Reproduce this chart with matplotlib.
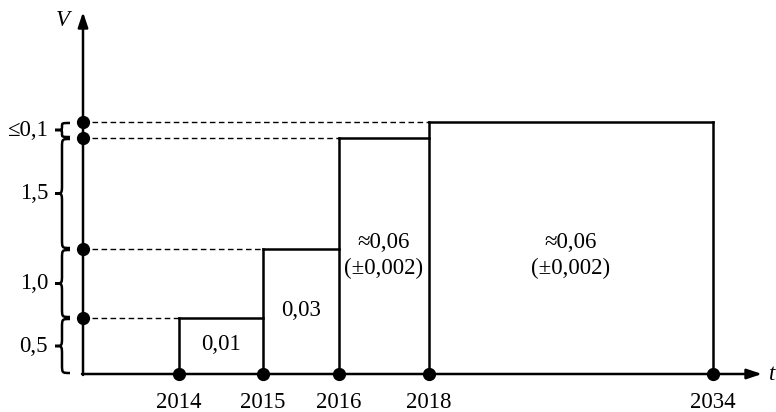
import matplotlib
matplotlib.use("Agg")
import matplotlib.pyplot as plt
from matplotlib.path import Path
from matplotlib.patches import PathPatch

plt.rcParams['font.family'] = ['Liberation Serif', 'DejaVu Serif']

# schematic data (units are drawing units, the diagram is not to scale)
years = ['2014', '2015', '2016', '2018', '2034']
year_pos = [96, 180, 256, 346, 630]
levels = [56, 125, 236, 252]          # step heights between consecutive years
step_labels = ['0,01', '0,03', '\u22480,06\n(\u00b10,002)', '\u22480,06\n(\u00b10,002)']
brace_labels = ['0,5', '1,0', '1,5', '\u22640,1']

fig = plt.figure(figsize=(7.76, 4.12), dpi=100)
ax = fig.add_axes([0, 0, 1, 1])
ax.set_xlim(-83, 693)
ax.set_ylim(-38, 374)
ax.axis('off')

lw = 1.8
fs = 16.5

# axes with arrows
ax.annotate('', xy=(0, 362), xytext=(0, -1),
            arrowprops=dict(arrowstyle='-|>,head_length=0.9,head_width=0.3',
                            lw=lw, color='black', shrinkA=0, shrinkB=0))
ax.annotate('', xy=(679, 0), xytext=(-1, 0),
            arrowprops=dict(arrowstyle='-|>,head_length=0.9,head_width=0.3',
                            lw=lw, color='black', shrinkA=0, shrinkB=0))
ax.text(-20, 354, 'V', fontsize=fs, style='italic', ha='center', va='center')
ax.text(689, -1, 't', fontsize=fs, style='italic', ha='center', va='center')

# steps
for i, h in enumerate(levels):
    x0, x1 = year_pos[i], year_pos[i + 1]
    ax.plot([x0, x1], [h, h], color='black', lw=lw, solid_capstyle='projecting')
    ax.plot([0, x0], [h, h], color='black', lw=1.0, ls=(0, (4, 2.5)))
    lines = step_labels[i].split('\n')
    xc = (x0 + x1) / 2
    if len(lines) == 1:
        ax.text(xc, 29 if i == 0 else 63, lines[0],
                fontsize=fs, ha='center', va='center')
    else:
        ax.text(xc, 132, lines[0], fontsize=fs, ha='center', va='center')
        ax.text(xc, 106, lines[1], fontsize=fs, ha='center', va='center')

for i, x in enumerate(year_pos):
    left = levels[i - 1] if i > 0 else 0
    right = levels[i] if i < len(levels) else 0
    ax.plot([x, x], [0, max(left, right)], color='black', lw=lw)
    ax.plot(x, 0, 'o', color='black', ms=8.5, zorder=5)
    ax.text(x, -28, years[i], fontsize=fs, ha='center', va='center')

ax.plot([0] * len(levels), levels, 'o', color='black', ms=8.5, zorder=5,
        clip_on=False)


def brace(y0, y1, xr=-13, xs=-21, xt=-28):
    r = min(9, (y1 - y0) / 4)
    ym = (y0 + y1) / 2
    verts = [(xr, y0), (xs, y0), (xs, y0), (xs, y0 + r),
             (xs, ym - r),
             (xs, ym), (xs, ym), (xt, ym),
             (xs, ym), (xs, ym), (xs, ym + r),
             (xs, y1 - r),
             (xs, y1), (xs, y1), (xr, y1)]
    codes = [Path.MOVETO, Path.CURVE4, Path.CURVE4, Path.CURVE4,
             Path.LINETO,
             Path.CURVE4, Path.CURVE4, Path.CURVE4,
             Path.CURVE4, Path.CURVE4, Path.CURVE4,
             Path.LINETO,
             Path.CURVE4, Path.CURVE4, Path.CURVE4]
    ax.add_patch(PathPatch(Path(verts, codes), fc='none', ec='black', lw=lw))
    return ym


bounds = [0] + levels
for i, lab in enumerate(brace_labels):
    ym = brace(bounds[i] + 1, bounds[i + 1] - 1)
    ax.text(-35, ym, lab, fontsize=fs, ha='right', va='center')

fig.savefig('out.png', dpi=100)
